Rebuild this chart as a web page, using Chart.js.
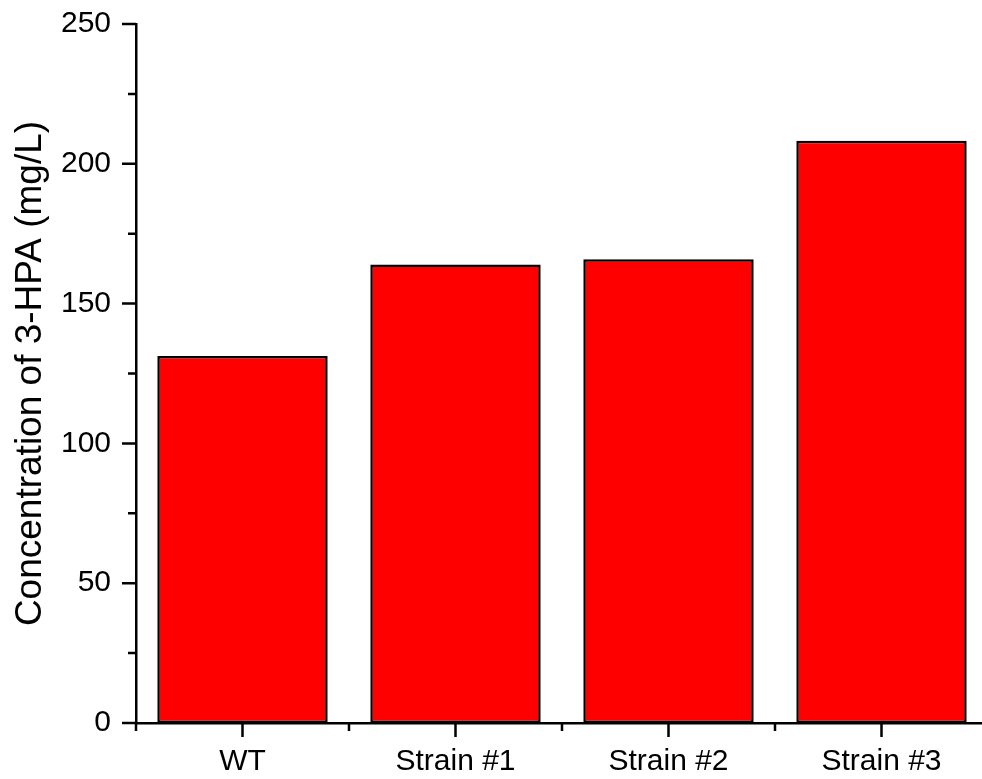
<!DOCTYPE html>
<html>
<head>
<meta charset="utf-8">
<script src="https://cdn.jsdelivr.net/npm/chart.js@4.4.0/dist/chart.umd.min.js"></script>
<style>
  html, body { margin: 0; padding: 0; background: #fff; overflow: hidden; width: 982px; height: 779px; }
  canvas { display: block; }
</style>
</head>
<body>
<canvas id="c" width="988" height="779"></canvas>
<script>
const categories = ['WT', 'Strain #1', 'Strain #2', 'Strain #3'];
const concentration = [131.3, 164.0, 165.9, 208.2];
const yTickValues = [0, 50, 100, 150, 200, 250];
const yMinorValues = [25, 75, 125, 175, 225];

const FONT = '"Liberation Sans", Arial, sans-serif';

const tickPlugin = {
  id: 'originTicks',
  afterDraw(chart) {
    const ctx = chart.ctx;
    const xs = chart.scales.x, ys = chart.scales.y;
    const left = chart.chartArea.left, bottom = chart.chartArea.bottom;
    ctx.save();
    ctx.strokeStyle = '#000';
    ctx.lineWidth = 2.5;
    ctx.beginPath();
    yTickValues.forEach(v => {
      const p = ys.getPixelForValue(v);
      ctx.moveTo(left - 14, p); ctx.lineTo(left, p);
    });
    yMinorValues.forEach(v => {
      const p = ys.getPixelForValue(v);
      ctx.moveTo(left - 8, p); ctx.lineTo(left, p);
    });
    categories.forEach((c, i) => {
      const p = xs.getPixelForValue(i);
      ctx.moveTo(p, bottom); ctx.lineTo(p, bottom + 14);
    });
    for (let i = 0; i <= categories.length; i++) {
      const p = xs.getPixelForValue(i - 0.5);
      ctx.moveTo(p, bottom); ctx.lineTo(p, bottom + 8);
    }
    ctx.stroke();
    ctx.restore();
  }
};

new Chart(document.getElementById('c'), {
  type: 'bar',
  data: {
    labels: categories,
    datasets: [{
      data: concentration,
      backgroundColor: '#FF0000',
      borderColor: '#000000',
      borderWidth: 2.5,
      borderSkipped: false,
      barPercentage: 0.8,
      categoryPercentage: 1.0
    }]
  },
  options: {
    responsive: false,
    animation: false,
    layout: { padding: { top: 24, left: 0, right: 0, bottom: 0 } },
    plugins: { legend: { display: false }, tooltip: { enabled: false } },
    scales: {
      x: {
        type: 'category',
        offset: true,
        grid: { display: false, drawTicks: false },
        border: { display: true, color: '#000', width: 2.5 },
        ticks: { color: '#000', font: { family: FONT, size: 30 }, padding: 21, maxRotation: 0, autoSkip: false },
        afterFit(scale) { scale.height = 56; scale.paddingLeft = 0; scale.paddingRight = 0; }
      },
      y: {
        min: 0, max: 250,
        grid: { display: false, drawTicks: false },
        border: { display: true, color: '#000', width: 2.5 },
        ticks: { stepSize: 50, color: '#000', font: { family: FONT, size: 30 }, padding: 25 },
        title: {
          display: true,
          text: 'Concentration of 3-HPA (mg/L)',
          color: '#000',
          font: { family: FONT, size: 37 },
          padding: { top: 9, bottom: 0 }
        },
        afterFit(scale) { scale.width = 136; scale.paddingTop = 0; scale.paddingBottom = 0; }
      }
    }
  },
  plugins: [tickPlugin]
});
</script>
</body>
</html>
